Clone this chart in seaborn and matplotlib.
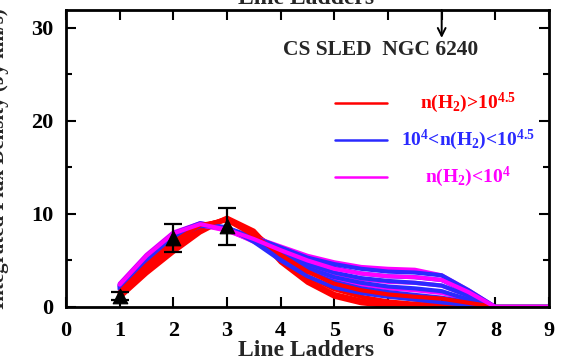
import numpy as np
import pandas as pd
import matplotlib
matplotlib.use("Agg")
import matplotlib.pyplot as plt
from matplotlib.lines import Line2D
from matplotlib.ticker import MultipleLocator
import seaborn as sns

# Transition ladder (upper J) at which model fluxes are tabulated
J_GRID = [1, 1.5, 2, 2.5, 3, 3.5, 4, 4.5, 5, 5.5, 6, 6.5, 7, 7.5, 8, 8.5, 9]

# Model SLEDs, n(H2) > 10^4.5
red_models = [
    [1.0, 3.6, 5.9, 8.0, 9.5, 8.0, 4.8, 2.6, 1.1, 0.4, 0.1, 0.0, 0.0, 0.0, 0, 0, 0],
    [1.2, 3.9, 6.3, 8.3, 9.6, 8.2, 5.1, 2.9, 1.4, 0.7, 0.3, 0.1, 0.0, 0.0, 0, 0, 0],
    [1.4, 4.2, 6.7, 8.6, 9.5, 8.0, 5.4, 3.3, 1.9, 1.1, 0.6, 0.35, 0.15, 0.05, 0, 0, 0],
    [1.6, 4.5, 7.0, 8.8, 9.3, 7.7, 5.6, 3.8, 2.5, 1.8, 1.35, 1.1, 0.9, 0.45, 0, 0, 0],
    [1.5, 4.4, 6.9, 8.7, 9.4, 7.9, 5.9, 4.1, 2.9, 2.0, 1.3, 0.8, 0.4, 0.1, 0, 0, 0],
]

# Model SLEDs, 10^4 < n(H2) < 10^4.5
blue_models = [
    [1.9, 4.9, 7.3, 8.7, 8.6, 7.0, 5.0, 3.3, 2.1, 1.5, 1.1, 0.8, 0.5, 0.2, 0, 0, 0],
    [2.0, 5.1, 7.5, 8.8, 8.5, 7.1, 5.3, 3.8, 2.7, 2.0, 1.6, 1.3, 1.0, 0.5, 0, 0, 0],
    [2.1, 5.2, 7.6, 8.9, 8.5, 7.2, 5.6, 4.2, 3.2, 2.6, 2.2, 2.0, 1.7, 0.8, 0, 0, 0],
    [2.2, 5.3, 7.7, 8.9, 8.4, 7.3, 5.9, 4.6, 3.7, 3.1, 2.8, 2.6, 2.3, 1.2, 0, 0, 0],
    [2.3, 5.4, 7.8, 8.9, 8.4, 7.4, 6.2, 5.0, 4.2, 3.6, 3.3, 3.2, 2.9, 1.5, 0, 0, 0],
    [2.4, 5.5, 7.9, 9.0, 8.5, 7.5, 6.4, 5.3, 4.6, 4.1, 3.8, 3.7, 3.4, 1.8, 0, 0, 0],
]

# Model SLEDs, n(H2) < 10^4
magenta_models = [
    [2.5, 5.6, 8.0, 9.0, 8.4, 7.5, 6.5, 5.5, 4.8, 4.3, 4.1, 4.0, 3.4, 1.8, 0, 0, 0],
    [2.4, 5.5, 7.9, 8.9, 8.3, 7.3, 6.1, 5.0, 4.1, 3.6, 3.3, 3.2, 2.9, 1.6, 0, 0, 0],
    [2.3, 5.4, 7.8, 8.8, 8.2, 7.1, 5.8, 4.5, 3.6, 3.0, 2.7, 2.6, 2.3, 1.2, 0, 0, 0],
    [2.2, 5.3, 7.7, 8.8, 8.3, 7.0, 5.5, 4.1, 3.1, 2.4, 2.0, 1.8, 1.5, 0.8, 0, 0, 0],
]

# Observed CS line fluxes of NGC 6240
obs_J = [1, 2, 3]
obs_flux = [1.2, 7.4, 8.65]
obs_err = [0.45, 1.5, 1.95]

legend_labels = [r"n(H$_2$)>10$^{4.5}$", r"10$^4$<n(H$_2$)<10$^{4.5}$", r"n(H$_2$)<10$^4$"]
group_colors = ["#ff0000", "#2a2aff", "#ff00ff"]


def to_frame(models, idx, name):
    rows = []
    for k in idx:
        for j, f in zip(J_GRID, models[k]):
            rows.append({"J": j, "flux": f, "model": f"{name}{k}"})
    return pd.DataFrame(rows)


sns.set_theme(style="ticks")
plt.rcParams["font.family"] = ["Liberation Serif", "DejaVu Serif"]
plt.rcParams["mathtext.default"] = "regular"

fig = plt.figure(figsize=(5.66, 3.61), dpi=100)
ax = fig.add_axes([0.1166, 0.1496, 0.8534, 0.8227])

# Drawing sequence of the model grid (group, model indices)
layers = [
    (red_models, [0, 1, 2, 4], "r", group_colors[0]),
    (magenta_models, [0, 2, 3], "m", group_colors[2]),
    (blue_models, [0, 1, 2, 3, 4, 5], "b", group_colors[1]),
    (red_models, [3], "r", group_colors[0]),
    (magenta_models, [1], "m", group_colors[2]),
]
for models, idx, name, col in layers:
    sns.lineplot(data=to_frame(models, idx, name), x="J", y="flux", units="model",
                 estimator=None, sort=False, color=col, lw=3.0, ax=ax,
                 legend=False, zorder=2)

ax.errorbar(obs_J, obs_flux, yerr=obs_err, fmt="none", ecolor="black",
            elinewidth=1.6, capsize=6.5, capthick=1.6, zorder=4)
sns.scatterplot(x=obs_J, y=obs_flux, marker="^", s=110, color="black",
                edgecolor="black", ax=ax, zorder=5)

ax.set_xlim(0, 9)
ax.set_ylim(0, 31.9)
ax.xaxis.set_major_locator(MultipleLocator(1))
ax.yaxis.set_major_locator(MultipleLocator(10))
ax.yaxis.set_minor_locator(MultipleLocator(5))
ax.tick_params(which="both", direction="in", top=True, right=True,
               width=1.5, colors="black", labelsize=16)
ax.tick_params(which="major", length=7.5)
ax.tick_params(which="minor", length=4.5)
ax.tick_params(axis="x", pad=10)
ax.tick_params(axis="y", pad=9)
for lab in ax.get_xticklabels() + ax.get_yticklabels():
    lab.set_fontweight("bold")
for s in ax.spines.values():
    s.set_linewidth(2)
    s.set_color("black")
ax.set_xlabel("")
ax.set_ylabel("")

fig.text(0.5415, 1 - 356 / 361, "Line Ladders", ha="center", va="baseline",
         fontsize=17, fontweight="bold")
fig.text(0.5415, 1 - 4 / 361, "Line Ladders", ha="center", va="baseline",
         fontsize=17, fontweight="bold")
fig.text(9 / 566, 0.56, "Integrated Flux Density (Jy km/s)", rotation=90,
         ha="right", va="center", fontsize=15, fontweight="bold")

ax.text(4.04, 27.6, "CS SLED  NGC 6240", ha="left", va="center",
        fontsize=15.5, fontweight="bold")
ax.annotate("", xy=(7, 28.9), xytext=(7, 31.9),
            arrowprops=dict(arrowstyle="->", lw=1.4, color="black",
                            mutation_scale=14, shrinkA=0, shrinkB=0))

# Key for the three density regimes
for k, (lab, col) in enumerate(zip(legend_labels, group_colors)):
    yk = [0.687, 0.562, 0.438][k]
    ax.add_line(Line2D([0.557, 0.665], [yk, yk], transform=ax.transAxes,
                       color=col, lw=1.8))
    ax.text(0.832, yk, lab, transform=ax.transAxes, ha="center", va="center",
            color=col, fontsize=14, fontweight="bold")

fig.savefig("out.png", dpi=100)
